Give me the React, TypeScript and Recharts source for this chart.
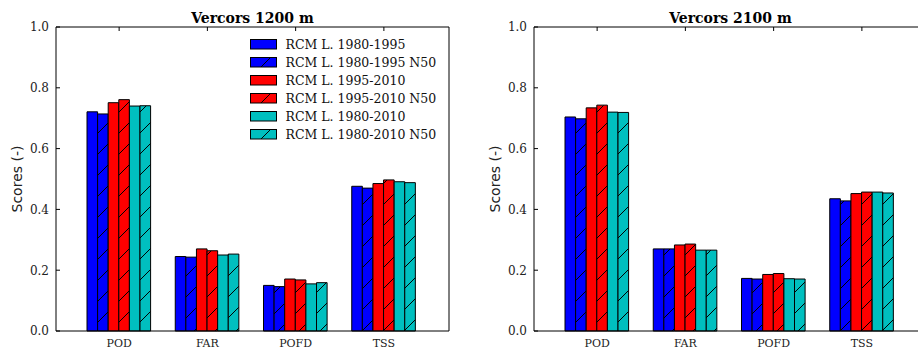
import { BarChart, Bar, XAxis, YAxis, Legend } from 'recharts'

const categories = ['POD', 'FAR', 'POFD', 'TSS']
const seriesNames = [
  'RCM L. 1980-1995',
  'RCM L. 1980-1995 N50',
  'RCM L. 1995-2010',
  'RCM L. 1995-2010 N50',
  'RCM L. 1980-2010',
  'RCM L. 1980-2010 N50',
]
const seriesColors = ['#0000ff', '#0000ff', '#ff0000', '#ff0000', '#00bfbf', '#00bfbf']
const seriesHatched = [false, true, false, true, false, true]
const yTicks = [0, 0.2, 0.4, 0.6, 0.8, 1.0]

// Vercors 1200 m
const v1200_8095 = [0.721, 0.245, 0.150, 0.476]
const v1200_8095n = [0.714, 0.243, 0.146, 0.470]
const v1200_9510 = [0.751, 0.270, 0.171, 0.485]
const v1200_9510n = [0.761, 0.264, 0.168, 0.497]
const v1200_8010 = [0.740, 0.250, 0.155, 0.491]
const v1200_8010n = [0.741, 0.253, 0.159, 0.488]

// Vercors 2100 m
const v2100_8095 = [0.704, 0.270, 0.173, 0.435]
const v2100_8095n = [0.698, 0.270, 0.171, 0.428]
const v2100_9510 = [0.734, 0.283, 0.186, 0.452]
const v2100_9510n = [0.743, 0.286, 0.189, 0.457]
const v2100_8010 = [0.720, 0.266, 0.172, 0.457]
const v2100_8010n = [0.719, 0.266, 0.171, 0.454]

const buildRows = (series: number[][]) =>
  categories.map((cat, i) => {
    const row: Record<string, string | number> = { cat }
    series.forEach((s, k) => (row[`s${k}`] = s[i]))
    return row
  })

const rows1200 = buildRows([v1200_8095, v1200_8095n, v1200_9510, v1200_9510n, v1200_8010, v1200_8010n])
const rows2100 = buildRows([v2100_8095, v2100_8095n, v2100_9510, v2100_9510n, v2100_8010, v2100_8010n])

const SERIF = '"DejaVu Serif", serif'
const SANS = '"DejaVu Sans", sans-serif'
const HATCH = 21
const TICK = 4

const fillFor = (pid: string, i: number) =>
  seriesHatched[i] ? `url(#${pid}-h${Math.floor(i / 2)})` : seriesColors[i]

function LeftTick(props: any) {
  const { x, y, payload } = props
  return (
    <g>
      <line x1={x} x2={x + TICK} y1={y} y2={y} stroke='#000' />
      <text x={x - 7} y={y} dy='0.36em' textAnchor='end' fontFamily={SERIF} fontSize={12} fill='#222'>
        {Number(payload.value).toFixed(1)}
      </text>
    </g>
  )
}

function RightTick(props: any) {
  const { x, y } = props
  return <line x1={x - TICK} x2={x} y1={y} y2={y} stroke='#000' />
}

function TopTick(props: any) {
  const { x, y } = props
  return <line x1={x} x2={x} y1={y} y2={y + TICK} stroke='#000' />
}

function BottomTick(props: any) {
  const { x, y, payload } = props
  return (
    <text x={x} y={y + 15.8} textAnchor='middle' fontFamily={SERIF} fontSize={11} fill='#222'>
      {payload.value}
    </text>
  )
}

function LegendBox({ pid }: { pid: string }) {
  return (
    <div style={{ fontFamily: SERIF, fontSize: 12.5, color: '#111' }}>
      {seriesNames.map((n, i) => (
        <div key={n} style={{ display: 'flex', alignItems: 'center', height: 18 }}>
          <svg width={27} height={11} style={{ marginRight: 9, display: 'block' }}>
            <rect x={0.5} y={0.5} width={26} height={9.5} fill={fillFor(pid, i)} stroke='#000' />
          </svg>
          <span style={{ whiteSpace: 'nowrap' }}>{n}</span>
        </div>
      ))}
    </div>
  )
}

interface PanelProps {
  title: string
  rows: Record<string, string | number>[]
  pid: string
  left: number
  legend?: boolean
}

function Panel({ title, rows, pid, left, legend }: PanelProps) {
  const hatchColors = ['#0000ff', '#ff0000', '#00bfbf']
  return (
    <div style={{ position: 'absolute', left, top: 0, width: 460, height: 349 }}>
      <BarChart
        width={460}
        height={349}
        data={rows}
        margin={{ top: 26, right: 10, bottom: 1, left: 0 }}
        barGap={0}
      >
        <defs>
          {hatchColors.map((c, k) => (
            <pattern key={k} id={`${pid}-h${k}`} patternUnits='userSpaceOnUse' width={HATCH} height={HATCH}>
              <rect width={HATCH} height={HATCH} fill={c} />
              <path
                d={`M0,${HATCH} L${HATCH},0 M-2,2 L2,-2 M${HATCH - 2},${HATCH + 2} L${HATCH + 2},${HATCH - 2}`}
                stroke='#000'
                strokeWidth={1}
              />
            </pattern>
          ))}
        </defs>
        <XAxis
          dataKey='cat'
          xAxisId='b'
          height={17}
          padding={{ left: 19, right: 21 }}
          tickLine={false}
          tickSize={0}
          tickMargin={0}
          axisLine={{ stroke: '#000' }}
          tick={<BottomTick />}
          interval={0}
        />
        <XAxis
          dataKey='cat'
          xAxisId='t'
          orientation='top'
          height={1}
          padding={{ left: 19, right: 21 }}
          tickLine={false}
          tickSize={0}
          tickMargin={0}
          axisLine={{ stroke: '#000' }}
          tick={<TopTick />}
          interval={0}
        />
        <YAxis
          yAxisId='l'
          type='number'
          domain={[0, 1]}
          ticks={yTicks}
          width={56}
          tickLine={false}
          tickSize={0}
          tickMargin={0}
          axisLine={{ stroke: '#000' }}
          tick={<LeftTick />}
          label={(p: any) => {
            const vb = p.viewBox
            const cx = vb.x + vb.width - 39.5
            const cy = vb.y + vb.height / 2
            return (
              <text
                x={cx}
                y={cy}
                transform={`rotate(-90 ${cx} ${cy})`}
                textAnchor='middle'
                dy='0.36em'
                fontFamily={SANS}
                fontSize={14}
                fill='#222'
              >
                Scores (-)
              </text>
            )
          }}
        />
        <YAxis
          yAxisId='r'
          orientation='right'
          type='number'
          domain={[0, 1]}
          ticks={yTicks}
          width={1}
          tickLine={false}
          tickSize={0}
          tickMargin={0}
          axisLine={{ stroke: '#000' }}
          tick={<RightTick />}
        />
        {seriesNames.map((n, i) => (
          <Bar
            key={n}
            name={n}
            dataKey={`s${i}`}
            xAxisId='b'
            yAxisId='l'
            fill={fillFor(pid, i)}
            stroke='#000'
            strokeWidth={1}
            barSize={10.6}
            isAnimationActive={false}
          />
        ))}
        {legend && (
          <Legend
            layout='horizontal'
            verticalAlign='middle'
            wrapperStyle={{ left: 249.5, top: 35, width: 'auto', height: 'auto' }}
            content={() => <LegendBox pid={pid} />}
          />
        )}
      </BarChart>
      <div
        style={{
          position: 'absolute',
          left: 56,
          top: 9,
          width: 393,
          textAlign: 'center',
          fontFamily: SERIF,
          fontWeight: 'bold',
          fontSize: 14,
          lineHeight: '18px',
          color: '#000',
        }}
      >
        {title}
      </div>
    </div>
  )
}

export default function App() {
  return (
    <div
      style={{
        position: 'absolute',
        left: 0,
        top: 0,
        width: 918,
        height: 349,
        overflow: 'hidden',
        background: '#fff',
      }}
    >
      <Panel title='Vercors 1200 m' rows={rows1200} pid='p1' left={0} legend />
      <Panel title='Vercors 2100 m' rows={rows2100} pid='p2' left={478} />
    </div>
  )
}
